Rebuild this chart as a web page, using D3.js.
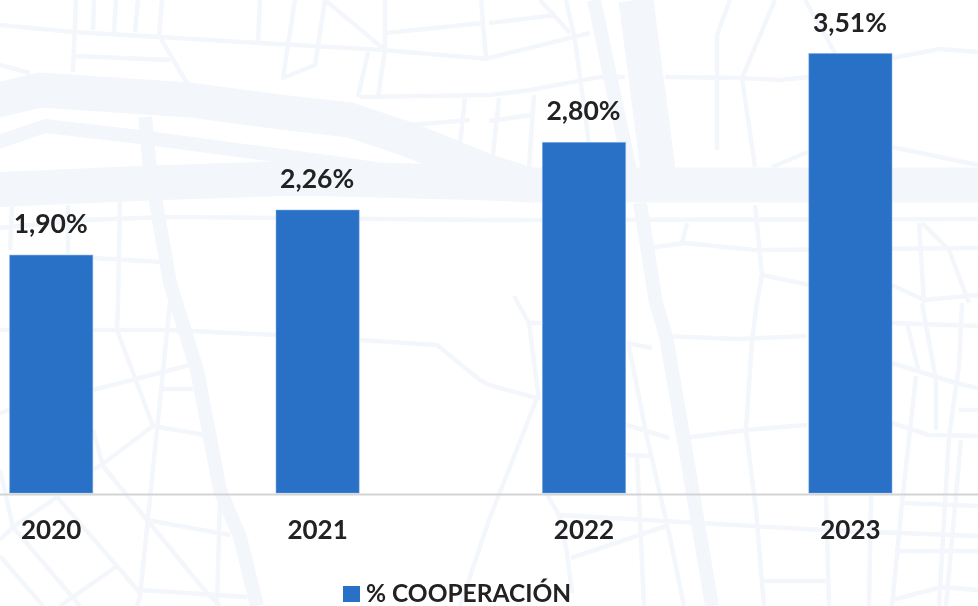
<!DOCTYPE html>
<html>
<head>
<meta charset="utf-8">
<script src="https://cdn.jsdelivr.net/npm/d3@7"></script>
<style>
	html, body { margin: 0; padding: 0; background: #fff; }
	svg { display: block; filter: blur(0.45px); }
	text { font-family: Lato, sans-serif; font-weight: 700; fill: #222; }
</style>
</head>
<body>
<svg id="svg"></svg>
<script>
var width = 978, height = 606;

var years = ["2020", "2021", "2022", "2023"];
var cooperacion = [1.90, 2.26, 2.80, 3.51];
var seriesName = "% COOPERACIÓN";

// street map behind the chart
var wideRoads = [
	[[-10, 102], [40, 90], [190, 100], [280, 112], [350, 120], [410, 140], [489, 172], [530, 185]],
	[[-10, 190], [150, 183], [300, 178], [489, 183], [530, 185], [988, 185]],
	[[636, 0], [658, 170]]
];
var midRoads = [
	[[-10, 145], [45, 126], [140, 137], [350, 165], [430, 178]],
	[[145, 117], [150, 170], [155, 197], [170, 283], [197, 370], [220, 490], [240, 537], [257, 606]],
	[[594, 0], [630, 170]],
	[[640, 203], [656, 303], [666, 336], [689, 470], [712, 606]]
];
var thinRoads = [
	[[0, 25], [73, 32], [160, 37], [260, 43], [383, 50], [489, 59]],
	[[76, 0], [73, 72]], [[94, 0], [93, 30]], [[116, 0], [114, 32]], [[138, 0], [135, 32]], [[162, 0], [159, 36]], [[260, 0], [258, 42]],
	[[295, 0], [283, 78], [315, 65], [325, 0], [385, 50]],
	[[385, 0], [385, 50], [378, 97]], [[368, 52], [358, 97]],
	[[385, 33], [483, 23]], [[481, 0], [486, 57]],
	[[75, 56], [170, 60]], [[160, 37], [188, 85]],
	[[360, 97], [489, 95], [530, 90], [600, 77], [625, 77]],
	[[465, 98], [460, 143]], [[410, 125], [470, 120]], [[0, 65], [30, 73]],
	[[489, 23], [556, 15]], [[540, 0], [570, 33]], [[566, 0], [575, 40], [589, 143]],
	[[489, 58], [590, 33]], [[499, 98], [493, 155]], [[534, 95], [529, 167]], [[489, 121], [532, 115]],
	[[665, 77], [740, 78], [780, 80], [810, 77]],
	[[717, 150], [717, 35], [730, 0]], [[742, 78], [775, 0]], [[742, 78], [755, 167]],
	[[805, 0], [835, 53]], [[892, 58], [940, 49], [978, 52]], [[892, 147], [978, 165]], [[772, 167], [808, 152]],
	[[0, 228], [83, 220], [167, 217], [489, 220], [978, 219]],
	[[649, 248], [685, 243], [755, 250], [978, 248]], [[682, 243], [687, 223]],
	[[755, 205], [762, 275], [757, 303], [752, 340], [746, 430], [756, 510], [764, 606]],
	[[762, 275], [810, 285]],
	[[919, 223], [924, 303]], [[922, 223], [949, 250], [969, 303]],
	[[892, 285], [924, 300], [978, 295]],
	[[12, 207], [10, 250]], [[68, 205], [68, 254]], [[120, 200], [118, 303], [117, 330], [153, 426]],
	[[93, 258], [162, 262]],
	[[0, 330], [170, 330], [276, 335]], [[360, 340], [437, 345], [480, 380], [489, 385], [537, 398], [489, 520], [460, 606]],
	[[93, 390], [190, 365]], [[170, 303], [140, 596], [137, 606]], [[160, 389], [193, 389]],
	[[153, 426], [205, 435]], [[153, 426], [100, 466], [93, 470]],
	[[93, 430], [103, 466], [147, 520], [207, 593], [220, 606]], [[147, 520], [230, 535]],
	[[220, 497], [217, 606]], [[140, 590], [247, 597]],
	[[57, 497], [117, 566], [140, 593]], [[57, 497], [13, 527], [0, 540]], [[13, 527], [80, 606]],
	[[0, 556], [43, 606]], [[117, 566], [60, 606]], [[0, 413], [9, 410]], [[0, 470], [13, 527]],
	[[514, 296], [529, 323], [539, 400]], [[529, 323], [541, 323]],
	[[627, 343], [652, 348]], [[629, 346], [646, 433], [669, 533], [684, 606]],
	[[627, 425], [669, 438]], [[684, 438], [746, 430], [807, 425]],
	[[664, 336], [739, 339], [807, 336]],
	[[627, 455], [649, 456]], [[637, 456], [644, 606]],
	[[546, 493], [559, 515], [567, 553], [572, 593]], [[559, 515], [822, 530], [978, 536]], [[571, 558], [666, 526]],
	[[764, 581], [826, 581]], [[826, 496], [829, 606]], [[871, 496], [869, 606]],
	[[892, 323], [978, 326]], [[907, 323], [919, 373]], [[922, 303], [936, 380], [936, 430]],
	[[962, 303], [959, 366], [949, 436], [939, 606]], [[892, 363], [956, 383], [978, 388]],
	[[916, 376], [902, 503], [892, 606]], [[892, 423], [929, 435], [978, 436]], [[959, 410], [978, 410]],
	[[961, 440], [946, 606]], [[904, 503], [978, 506]], [[899, 551], [978, 551]], [[892, 600], [942, 587], [978, 590]]
];

var svg = d3.select("#svg")
	.attr("width", width)
	.attr("height", height);

var x = d3.scaleBand()
	.domain(years)
	.range([-82, 983.6])
	.paddingInner(0.688)
	.paddingOuter(0.344);

var y = d3.scaleLinear()
	.domain([0, 4])
	.range([493, -7.8]);

var roadLine = d3.line();

function drawRoads(list, w)
{
	svg.append("g")
		.selectAll("path")
		.data(list)
		.enter()
		.append("path")
		.attr("d", roadLine)
		.attr("fill", "none")
		.attr("stroke", "#f3f7fc")
		.attr("stroke-width", w)
		.attr("stroke-linejoin", "round");
}
drawRoads(thinRoads, 4.5);
drawRoads(midRoads, 14);
drawRoads(wideRoads, 35);

svg.selectAll(".bar")
	.data(cooperacion)
	.enter()
	.append("rect")
	.attr("class", "bar")
	.attr("x", function(d, i) { return x(years[i]); })
	.attr("y", function(d) { return y(d); })
	.attr("width", x.bandwidth())
	.attr("height", function(d) { return y(0) - y(d); })
	.attr("fill", "#2971c7")
	.attr("stroke", "#6ea3e0")
	.attr("stroke-opacity", 0.5)
	.attr("stroke-width", 1);

var es = d3.formatLocale({ decimal: ",", thousands: ".", grouping: [3], currency: ["", ""] });
var pct = es.format(".2f");

svg.selectAll(".value")
	.data(cooperacion)
	.enter()
	.append("text")
	.attr("class", "value")
	.attr("x", function(d, i) { return x(years[i]) + x.bandwidth() / 2 - 0.5; })
	.attr("y", function(d) { return y(d) - 22; })
	.attr("text-anchor", "middle")
	.style("font-size", "26.5px")
	.text(function(d) { return pct(d) + "%"; });

var xAxis = d3.axisBottom()
	.scale(x)
	.tickSize(0)
	.tickPadding(27);

var axisG = svg.append("g")
	.attr("transform", "translate(0,494)")
	.call(xAxis);
axisG.select(".domain")
	.attr("stroke", "#d4d4d4")
	.attr("stroke-width", 2);
axisG.selectAll("text")
	.style("font-size", "26px")
	.style("fill", "#222");

// legend
svg.append("rect")
	.attr("x", 343)
	.attr("y", 586)
	.attr("width", 17)
	.attr("height", 16)
	.attr("fill", "#2971c7");
svg.append("text")
	.attr("x", 366)
	.attr("y", 602)
	.style("font-size", "24.5px")
	.text(seriesName);
</script>
</body>
</html>
